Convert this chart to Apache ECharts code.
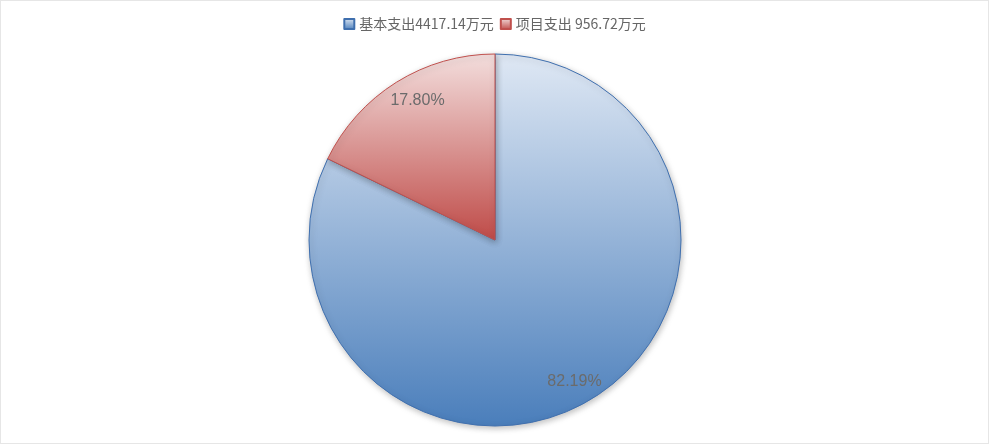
<!DOCTYPE html>
<html>
<head>
<meta charset="utf-8">
<script src="https://cdn.jsdelivr.net/npm/echarts@6/dist/echarts.min.js"></script>
<style>
  html, body { margin: 0; padding: 0; background: #fff; }
  #chart { width: 987px; height: 442px; border: 1px solid #e6e6e6; }
</style>
</head>
<body>
<div id="chart"></div>
<script>
// data
const categories = ['基本支出', '项目支出'];
const values = [4417.14, 956.72];
const legendText = ['基本支出4417.14万元', '项目支出 956.72万元'];

const topColors = ['#dfe8f4', '#f3dedd'];
const bottomColors = ['#4a7ebb', '#bf4b48'];
const edgeColors = ['#3f6fae', '#c0504d'];

function grad(i) {
    return new echarts.graphic.LinearGradient(0, 0, 0, 1, [
        { offset: 0, color: topColors[i] },
        { offset: 1, color: bottomColors[i] }
    ]);
}

const total = values.reduce((a, b) => a + b, 0);

const pieData = categories.map((name, i) => ({
    name: name,
    value: values[i],
    itemStyle: { color: grad(i), borderColor: edgeColors[i] }
}));

const chart = echarts.init(document.getElementById('chart'));

chart.setOption({
    animation: false,
    legend: {
        top: 11,
        left: 'center',
        icon: 'rect',
        itemWidth: 10,
        itemHeight: 10,
        itemGap: 6,
        textStyle: { fontSize: 14, color: '#666666', fontFamily: 'Noto Sans CJK SC' },
        formatter: function (name) {
            return legendText[categories.indexOf(name)];
        },
        data: categories
    },
    series: [
        {
            type: 'pie',
            center: [494, 239],
            radius: 186,
            startAngle: 90,
            clockwise: true,
            label: { show: false },
            labelLine: { show: false },
            itemStyle: {
                borderWidth: 1,
                shadowBlur: 6,
                shadowOffsetX: 1,
                shadowOffsetY: 2,
                shadowColor: 'rgba(0,0,0,0.25)'
            },
            data: pieData
        },
        {
            // invisible ring only for placing the percent labels near the rim
            type: 'pie',
            center: [494, 239],
            radius: [140, 180],
            startAngle: 90,
            clockwise: true,
            silent: true,
            legendHoverLink: false,
            itemStyle: { color: 'rgba(0,0,0,0)' },
            label: {
                show: true,
                position: 'inside',
                fontSize: 16,
                color: '#6b6b6b',
                fontFamily: 'Liberation Sans',
                formatter: function (p) {
                    return (Math.floor(p.value / total * 10000) / 100).toFixed(2) + '%';
                }
            },
            labelLine: { show: false },
            data: categories.map((name, i) => ({
                name: name,
                value: values[i],
                label: { offset: i === 0 ? [-7, 3] : [9, -1] }
            }))
        }
    ]
});
</script>
</body>
</html>
